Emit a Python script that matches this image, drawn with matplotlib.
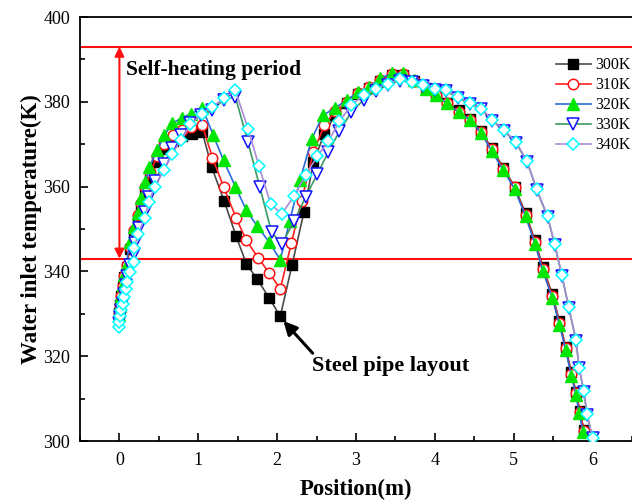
import matplotlib.pyplot as plt
from matplotlib.ticker import MultipleLocator

plt.rcParams['font.family'] = ['Liberation Serif', 'DejaVu Serif']

# Water inlet temperature (K) against position along the pipe (m)
x300 = [0.00, 0.01, 0.02, 0.04, 0.06, 0.09, 0.13, 0.18, 0.23, 0.27, 0.33, 0.39, 0.48, 0.57, 0.68,
        0.79, 0.92, 1.05, 1.17, 1.33, 1.48, 1.61, 1.75, 1.90, 2.04, 2.19, 2.34, 2.46, 2.60, 2.74,
        2.88, 3.02, 3.17, 3.31, 3.46, 3.59, 3.74, 3.89, 4.02, 4.15, 4.30, 4.45, 4.59, 4.72, 4.87,
        5.01, 5.15, 5.27, 5.37, 5.49, 5.58, 5.66, 5.73, 5.79, 5.84, 5.89]
t300 = [330.2, 332.0, 334.2, 336.4, 338.6, 341.0, 345.2, 349.0, 352.4, 355.4, 358.8, 362.0, 365.8, 368.8, 370.8,
        372.0, 372.5, 372.9, 364.6, 356.5, 348.3, 341.8, 338.1, 333.7, 329.4, 341.6, 354.0, 365.8, 372.5, 377.0,
        379.6, 381.8, 383.3, 385.0, 386.3, 386.3, 385.0, 383.3, 381.8, 379.8, 378.0, 376.0, 373.0, 369.0, 364.5,
        360.0, 353.8, 347.3, 341.0, 334.6, 328.2, 322.2, 316.2, 311.6, 307.0, 302.6]

x310 = [0.00, 0.01, 0.02, 0.04, 0.06, 0.09, 0.13, 0.18, 0.23, 0.27, 0.33, 0.39, 0.48, 0.57, 0.68,
        0.79, 0.91, 1.05, 1.18, 1.32, 1.48, 1.61, 1.76, 1.90, 2.04, 2.18, 2.31, 2.46, 2.60, 2.74,
        2.88, 3.02, 3.17, 3.31, 3.46, 3.59, 3.74, 3.89, 4.02, 4.15, 4.30, 4.45, 4.59, 4.72, 4.87,
        5.01, 5.15, 5.27, 5.37, 5.49, 5.58, 5.66, 5.73, 5.79, 5.84, 5.89]
t310 = [330.0, 332.0, 334.2, 336.6, 338.8, 341.4, 345.8, 349.8, 353.2, 356.2, 359.8, 363.4, 367.2, 370.0, 372.2,
        373.4, 374.0, 374.5, 366.8, 360.0, 352.6, 347.3, 343.2, 339.6, 335.9, 346.6, 356.7, 368.2, 374.5, 377.8,
        380.0, 382.0, 383.5, 385.2, 386.5, 386.5, 385.0, 383.3, 381.6, 379.6, 377.6, 375.7, 372.8, 368.8, 364.2,
        359.8, 353.4, 347.0, 340.6, 334.2, 327.9, 321.9, 315.9, 311.3, 306.8, 302.4]

x320 = [0.00, 0.01, 0.02, 0.04, 0.06, 0.09, 0.13, 0.18, 0.23, 0.27, 0.33, 0.38, 0.48, 0.57, 0.67,
        0.79, 0.91, 1.05, 1.19, 1.32, 1.47, 1.61, 1.75, 1.90, 2.04, 2.16, 2.29, 2.44, 2.58, 2.74,
        2.88, 3.02, 3.17, 3.31, 3.46, 3.59, 3.74, 3.89, 4.02, 4.15, 4.30, 4.45, 4.59, 4.72, 4.87,
        5.01, 5.15, 5.27, 5.37, 5.49, 5.58, 5.66, 5.73, 5.79, 5.83, 5.88]
t320 = [329.8, 331.8, 334.2, 336.8, 339.2, 341.8, 346.9, 350.4, 353.8, 357.4, 361.1, 364.6, 368.6, 372.1, 374.9,
        376.2, 377.2, 378.6, 372.1, 366.2, 360.0, 354.4, 350.6, 346.9, 342.7, 352.0, 361.5, 371.3, 376.8, 378.6,
        380.4, 382.2, 383.5, 385.5, 386.7, 386.7, 385.1, 383.1, 381.6, 379.6, 377.6, 375.7, 372.6, 368.4, 363.8,
        359.5, 353.0, 346.5, 340.0, 333.7, 327.4, 321.4, 315.4, 310.9, 306.5, 302.2]

x330 = [0.00, 0.01, 0.02, 0.04, 0.06, 0.085, 0.10, 0.14, 0.18, 0.20, 0.25, 0.32, 0.37, 0.45, 0.56,
        0.67, 0.78, 0.90, 1.03, 1.17, 1.32, 1.47, 1.63, 1.78, 1.93, 2.06, 2.22, 2.36, 2.51, 2.65,
        2.79, 2.94, 3.10, 3.25, 3.41, 3.56, 3.71, 3.85, 4.00, 4.14, 4.29, 4.44, 4.59, 4.73, 4.88,
        5.03, 5.17, 5.29, 5.43, 5.52, 5.61, 5.70, 5.79, 5.83, 5.89, 5.93, 6.00]
t330 = [327.8, 329.2, 330.8, 332.6, 334.6, 336.8, 338.8, 341.4, 344.0, 346.8, 350.2, 354.0, 357.6, 361.4, 365.4,
        369.0, 372.2, 375.0, 376.8, 378.0, 380.4, 381.2, 370.5, 359.9, 349.2, 346.5, 352.0, 357.5, 363.0, 368.2,
        373.0, 377.6, 380.5, 382.6, 384.0, 385.0, 384.6, 383.7, 382.9, 382.5, 381.0, 379.5, 378.2, 375.5, 373.1,
        370.3, 365.8, 359.3, 352.8, 346.3, 339.0, 331.3, 323.6, 317.1, 311.6, 306.1, 300.6]

x340 = [0.00, 0.00, 0.01, 0.02, 0.04, 0.06, 0.085, 0.10, 0.14, 0.18, 0.19, 0.24, 0.32, 0.37, 0.45,
        0.56, 0.67, 0.78, 0.90, 1.05, 1.18, 1.32, 1.47, 1.63, 1.77, 1.92, 2.06, 2.22, 2.36, 2.51,
        2.65, 2.79, 2.94, 3.10, 3.25, 3.41, 3.56, 3.71, 3.85, 4.00, 4.14, 4.29, 4.44, 4.59, 4.73,
        4.88, 5.03, 5.17, 5.29, 5.43, 5.52, 5.61, 5.70, 5.79, 5.83, 5.89, 5.93, 6.00]
t340 = [326.8, 328.0, 329.4, 330.8, 332.4, 334.0, 335.8, 337.6, 339.8, 342.2, 345.6, 348.9, 352.6, 356.3, 360.0,
        364.0, 367.8, 370.9, 374.7, 377.2, 378.8, 380.8, 382.7, 373.7, 364.8, 355.8, 353.6, 357.9, 362.7, 367.2,
        370.7, 375.4, 379.2, 381.6, 383.1, 384.3, 385.3, 384.7, 383.9, 383.1, 382.7, 381.2, 379.7, 378.4, 375.7,
        373.3, 370.5, 366.0, 359.5, 353.0, 346.5, 339.2, 331.5, 323.8, 317.3, 311.8, 306.3, 300.8]

labels = ['300K', '310K', '320K', '330K', '340K']
period_bounds = [343, 393]  # self-heating period limits (K)

fig = plt.figure(figsize=(6.32, 5), dpi=100)
ax = fig.add_axes([80 / 632, 59 / 500, 552 / 632, 424 / 500])

ax.axhline(period_bounds[0], color='#ff1010', lw=1.5, zorder=1)
ax.axhline(period_bounds[1], color='#ff1010', lw=1.5, zorder=1)

styles = [
    dict(color='#4a4a4a', marker='s', ms=7, mfc='black', mec='black'),
    dict(color='#ff2020', marker='o', ms=7.5, mfc='white', mec='#ff1010', mew=1.1),
    dict(color='#2a6ad8', marker='^', ms=8.5, mfc='#00e600', mec='#00e600'),
    dict(color='#3a9a60', marker='v', ms=8.5, mfc='white', mec='#1010ff', mew=1.1),
    dict(color='#a98cd8', marker='D', ms=6, mfc='white', mec='#00ffff', mew=1.1),
]
for xs, ts, lab, st in zip([x300, x310, x320, x330, x340],
                           [t300, t310, t320, t330, t340], labels, styles):
    ax.plot(xs, ts, lw=1.2, label=lab, zorder=3, **st)

# double-headed arrow marking the self-heating period
ax.annotate('', xy=(0.0, period_bounds[1]), xytext=(0.0, period_bounds[0]),
            arrowprops=dict(arrowstyle='<|-|>', color='#ff1010', lw=1.5,
                            shrinkA=0, shrinkB=0, mutation_scale=14), zorder=2)
ax.text(0.08, 387.5, 'Self-heating period', fontsize=15.5, fontweight='bold', va='center')

ax.annotate('Steel pipe layout', xy=(2.08, 328.3), xytext=(2.44, 317.7),
            fontsize=16, fontweight='bold', va='center',
            arrowprops=dict(arrowstyle='-|>', color='black', lw=2.2,
                            shrinkA=0, shrinkB=0, mutation_scale=20,
                            relpos=(0.05, 0.75)))

ax.set_xlim(-0.5, 6.5)
ax.set_ylim(300, 400)
ax.xaxis.set_major_locator(MultipleLocator(1))
ax.xaxis.set_minor_locator(MultipleLocator(0.5))
ax.yaxis.set_major_locator(MultipleLocator(20))
ax.yaxis.set_minor_locator(MultipleLocator(10))
ax.tick_params(which='both', direction='in', labelsize=13, width=1.2)
ax.tick_params(which='major', length=6)
ax.tick_params(which='minor', length=3.5)
ax.tick_params(axis='x', pad=8)
ax.tick_params(axis='y', pad=7)
for side in ['left', 'bottom', 'top']:
    ax.spines[side].set_linewidth(1.3)
ax.spines['right'].set_visible(False)

ax.set_xlabel('Position(m)', fontsize=16.5, fontweight='bold', labelpad=7)
ax.set_ylabel('Water inlet temperature(K)', fontsize=16.5, fontweight='bold', labelpad=1)

ax.legend(loc='upper right', bbox_to_anchor=(0.998, 0.905), frameon=False, fontsize=11.5,
          handlelength=2.2, handletextpad=0.3, labelspacing=0.25, borderpad=0, borderaxespad=0)

fig.savefig('out.png', dpi=100)
